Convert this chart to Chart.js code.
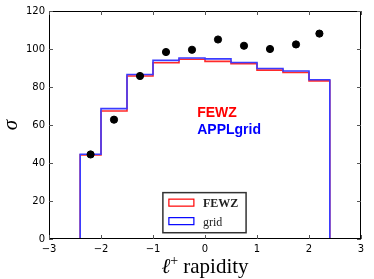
<!DOCTYPE html>
<html>
<head>
<meta charset="utf-8">
<script src="https://cdn.jsdelivr.net/npm/chart.js@4/dist/chart.umd.min.js"></script>
<style>
  body { margin: 0; background: #fff; }
  #wrap { width: 374px; height: 279px; }
</style>
</head>
<body>
<div id="wrap"><canvas id="c" width="374" height="279"></canvas></div>
<script>
// bin edges of the rapidity histogram
const binEdges = [-2.4, -2.0, -1.5, -1.0, -0.5, 0, 0.5, 1.0, 1.5, 2.0, 2.4];
const fewzVals = [44.3, 67.4, 85.8, 92.8, 94.6, 93.5, 92.3, 88.9, 87.6, 83.2];
const gridVals = [44.6, 68.6, 86.6, 94.0, 95.3, 94.8, 92.9, 89.7, 88.4, 83.8];
// black points
const dataX = [-2.2, -1.75, -1.25, -0.75, -0.25, 0.25, 0.75, 1.25, 1.75, 2.2];
const dataY = [44.5, 62.8, 85.8, 98.4, 99.6, 105.0, 101.7, 100.0, 102.4, 108.1];

const xTicks = [-3, -2, -1, 0, 1, 2, 3];
const yTicks = [0, 20, 40, 60, 80, 100, 120];

// step outline: start at 0, climb, walk across bins, drop to 0 at the end
function stepPoints(vals) {
  const pts = [{ x: binEdges[0], y: 0 }];
  vals.forEach((v, i) => pts.push({ x: binEdges[i], y: v }));
  pts.push({ x: binEdges[binEdges.length - 1], y: 0 });
  return pts;
}

const tickFont = { family: 'DejaVu Sans', size: 10 };

const decorations = {
  id: 'decorations',
  afterDraw(chart) {
    const ctx = chart.ctx;
    const a = chart.chartArea;
    const xs = chart.scales.x, ys = chart.scales.y;
    ctx.save();

    // frame
    ctx.strokeStyle = '#000';
    ctx.lineWidth = 1;
    ctx.strokeRect(a.left + 0.5, a.top + 0.5, a.right - a.left - 1, a.bottom - a.top - 1);

    // inward ticks on all four sides
    ctx.strokeStyle = '#555';
    ctx.beginPath();
    xTicks.forEach(v => {
      const px = Math.round(xs.getPixelForValue(v)) + 0.5;
      ctx.moveTo(px, a.bottom); ctx.lineTo(px, a.bottom - 4);
      ctx.moveTo(px, a.top); ctx.lineTo(px, a.top + 4);
    });
    yTicks.forEach(v => {
      const py = Math.round(ys.getPixelForValue(v)) + 0.5;
      ctx.moveTo(a.left, py); ctx.lineTo(a.left + 4, py);
      ctx.moveTo(a.right, py); ctx.lineTo(a.right - 4, py);
    });
    ctx.stroke();

    // big in-plot labels
    ctx.font = 'bold 14px "Liberation Sans"';
    ctx.textBaseline = 'alphabetic';
    ctx.textAlign = 'left';
    ctx.fillStyle = '#ff0000';
    ctx.fillText('FEWZ', xs.getPixelForValue(-0.15), ys.getPixelForValue(64.4));
    ctx.fillStyle = '#0000ff';
    ctx.fillText('APPLgrid', xs.getPixelForValue(-0.15), ys.getPixelForValue(55.2));

    // legend box
    const lx0 = xs.getPixelForValue(-0.81), lx1 = xs.getPixelForValue(0.79);
    const ly0 = ys.getPixelForValue(24.4), ly1 = ys.getPixelForValue(3.3);
    ctx.fillStyle = '#fff';
    ctx.fillRect(lx0, ly0, lx1 - lx0, ly1 - ly0);
    ctx.strokeStyle = '#333';
    ctx.lineWidth = 1.5;
    ctx.strokeRect(lx0, ly0, lx1 - lx0, ly1 - ly0);

    const entries = [
      { label: 'FEWZ', color: '#ff0000', bold: true },
      { label: 'grid', color: '#0000ff', bold: false }
    ];
    entries.forEach((e, i) => {
      const top = ly0 + 6.5 + i * 18.5;
      ctx.strokeStyle = e.color;
      ctx.lineWidth = 1.2;
      ctx.strokeRect(lx0 + 6, top, 25, 7);
      ctx.fillStyle = '#222';
      ctx.font = (e.bold ? 'bold ' : '') + '12px "Liberation Serif"';
      ctx.fillText(e.label, lx0 + 40, top + 8);
    });

    // axis titles
    ctx.fillStyle = '#000';
    ctx.font = 'italic 21px "Liberation Serif"';
    const lW = ctx.measureText('\u2113').width;
    ctx.font = '14px "Liberation Serif"';
    const pW = ctx.measureText('+').width;
    ctx.font = '21px "Liberation Serif"';
    const rW = ctx.measureText(' rapidity').width;
    const total = lW + pW + rW;
    let sx = (a.left + a.right) / 2 - total / 2;
    const by = 273;
    ctx.textAlign = 'left';
    ctx.font = 'italic 21px "Liberation Serif"';
    ctx.fillText('\u2113', sx, by);
    ctx.font = '14px "Liberation Serif"';
    ctx.fillText('+', sx + lW, by - 8);
    ctx.font = '21px "Liberation Serif"';
    ctx.fillText(' rapidity', sx + lW + pW, by);

    ctx.translate(17, (a.top + a.bottom) / 2);
    ctx.rotate(-Math.PI / 2);
    ctx.textAlign = 'center';
    ctx.font = 'italic 21px "Liberation Serif"';
    ctx.fillText('\u03c3', 0, 0);

    ctx.restore();
  }
};

new Chart(document.getElementById('c'), {
  type: 'scatter',
  data: {
    datasets: [
      {
        label: 'data',
        data: dataX.map((x, i) => ({ x: x, y: dataY[i] })),
        backgroundColor: '#000',
        borderColor: '#000',
        pointRadius: 3.6,
        order: 0
      },
      {
        label: 'grid',
        data: stepPoints(gridVals),
        showLine: true,
        stepped: 'before',
        borderColor: '#3b3bff',
        borderWidth: 1.6,
        pointRadius: 0,
        fill: false,
        order: 1
      },
      {
        label: 'FEWZ',
        data: stepPoints(fewzVals),
        showLine: true,
        stepped: 'before',
        borderColor: '#ff2a2a',
        borderWidth: 1.6,
        pointRadius: 0,
        fill: false,
        order: 2
      }
    ]
  },
  options: {
    responsive: false,
    animation: false,
    layout: { padding: { top: 11, right: 13, left: 0, bottom: 0 } },
    plugins: {
      legend: { display: false },
      tooltip: { enabled: false }
    },
    scales: {
      x: {
        type: 'linear',
        min: -3,
        max: 3,
        afterFit: s => { s.height = 40; },
        afterBuildTicks: s => { s.ticks = xTicks.map(v => ({ value: v })); },
        grid: { display: false, drawTicks: false },
        border: { display: false },
        ticks: {
          color: '#000',
          font: tickFont,
          padding: 4,
          maxRotation: 0,
          callback: v => String(v).replace('-', '\u2212')
        }
      },
      y: {
        min: 0,
        max: 120,
        afterFit: s => { s.width = 49; },
        afterBuildTicks: s => { s.ticks = yTicks.map(v => ({ value: v })); },
        grid: { display: false, drawTicks: false },
        border: { display: false },
        ticks: {
          color: '#000',
          font: tickFont,
          padding: 4
        }
      }
    }
  },
  plugins: [decorations]
});
</script>
</body>
</html>
